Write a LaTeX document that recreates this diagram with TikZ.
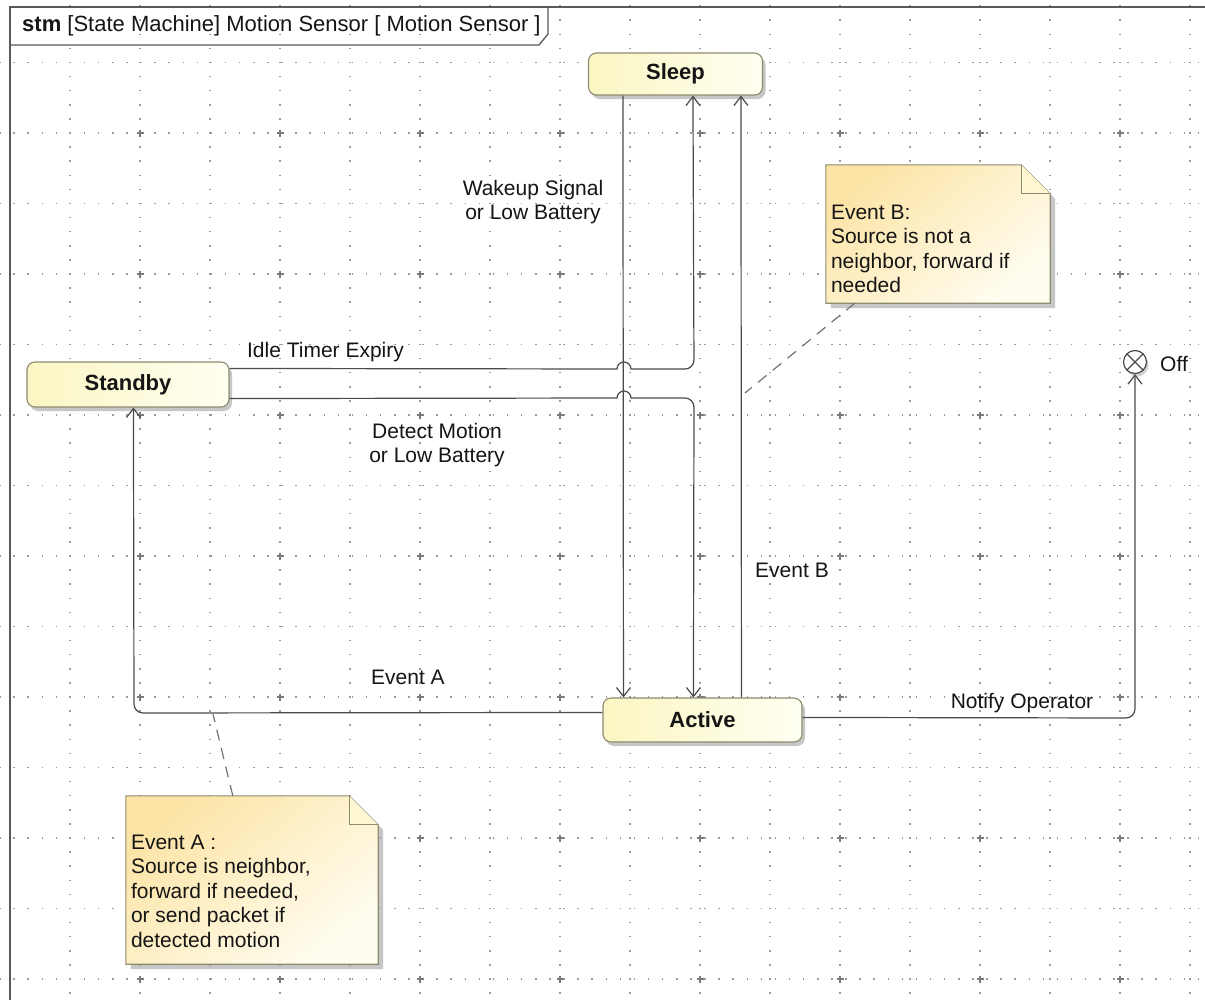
\documentclass[tikz,border=0pt]{standalone}
\usepackage{fontspec}
\setmainfont{Liberation Sans}
\usetikzlibrary{arrows.meta,calc,shadows}

\definecolor{edge}{HTML}{4A4A4A}
\definecolor{gridc}{HTML}{9A9A9A}
\definecolor{stateL}{HTML}{FBF6C2}
\definecolor{stateR}{HTML}{FFFFF2}
\definecolor{stateB}{HTML}{8C8B70}
\definecolor{noteL}{HTML}{FCE4A6}
\definecolor{noteR}{HTML}{FFFDF0}
\definecolor{foldc}{HTML}{FFF6D2}
\definecolor{noteB}{HTML}{8E8C6E}
\definecolor{txt}{HTML}{151515}

\tikzset{
  gridline/.style={draw=gridc, line width=1.4pt, dash pattern=on 1.5pt off 12.6pt, dash phase=0.75pt},
  gridcross/.style={draw=gridc!80!black, line width=1.2pt},
  frameline/.style={draw=black!65, line width=1.3pt},
  lbl/.style={text=txt, inner sep=0pt, align=center, font=\fontsize{21}{24}\selectfont},
  state/.style={draw=stateB, line width=1.1pt, rounded corners=8pt,
    left color=stateL, right color=stateR, inner sep=0pt,
    text=txt, font=\fontsize{22}{26}\selectfont\bfseries,
    drop shadow={shadow xshift=3pt, shadow yshift=-4pt, fill=black!40, opacity=0.55}},
  trans/.style={draw=edge, line width=1.2pt, -{Straight Barb[length=9pt,width=14pt]}},
  anchorline/.style={draw=black!55, line width=1.2pt, dash pattern=on 11pt off 8pt},
  notearea/.style={inner sep=0pt},
  noteline/.style={draw=noteB, line width=1.1pt},
  notetext/.style={text=txt, inner sep=0pt, align=left, font=\fontsize{21}{24.4}\selectfont},
  finalstate/.style={circle, draw=edge, line width=1.2pt, fill=white, minimum size=23pt, inner sep=0pt,
    drop shadow={shadow xshift=2pt, shadow yshift=-3pt, fill=black!35, opacity=0.5},
    path picture={\draw[edge, line width=1.2pt]
      (path picture bounding box.north west) -- (path picture bounding box.south east)
      (path picture bounding box.north east) -- (path picture bounding box.south west);}}
}

\begin{document}
\begin{tikzpicture}[x=1pt,y=-1pt]
\useasboundingbox (0,0) rectangle (1205,999);
\clip (0,0) rectangle (1205,999);
\fill[white] (0,0) rectangle (1205,999);

% dotted drawing grid
\foreach \i in {1,...,17}
  \draw[gridline] ({70*\i},-8) -- ({70*\i},1010);
\foreach \j in {0,...,13}
  \draw[gridline] (0,{62.5+70.5*\j}) -- (1215,{62.5+70.5*\j});
\foreach \i in {1,...,8}
  \foreach \j in {1,3,...,13}
    \draw[gridcross] ({140*\i-3.5},{62.5+70.5*\j}) -- ++(7,0)
                     ({140*\i},{62.5+70.5*\j-3.5}) -- ++(0,7);

% diagram frame and its heading tab
\draw[frameline] (10,1010) -- (10,7) -- (1215,7);
\draw[frameline] (10,45) -- (539,45) -- (548,34) -- (548,7);
\node[lbl, anchor=west, font=\fontsize{22}{26}\selectfont] (title) at (22,26)
  {\textbf{stm} [State Machine] Motion Sensor [ Motion Sensor ]};

% states
\node[state, minimum width=174pt, minimum height=42pt] (sleep)   at (675.5,74)  {Sleep};
\node[state, minimum width=202pt, minimum height=45pt] (standby) at (128,384.5) {Standby};
\node[state, minimum width=199pt, minimum height=44pt] (active)  at (702.5,720) {Active};
\node[finalstate] (off) at (1135,362) {};
\node[lbl, anchor=west] (offlbl) at (1160,364) {Off};

% transitions
\draw[trans] ($(sleep.south west)+(35,0)$) -- ($(active.north west)+(21,0)$);
\draw[trans] ($(standby.north east)+(0,7)$) -- (617,369)
  arc[start angle=180, end angle=0, radius=7pt]
  [rounded corners=9pt] -- (694,369) -- ($(sleep.south west)+(105,0)$);
\draw[trans] ($(standby.south east)+(0,-9)$) -- (617,398)
  arc[start angle=180, end angle=0, radius=7pt]
  [rounded corners=9pt] -- (694,398) -- ($(active.north west)+(91,0)$);
\draw[trans] ($(active.north west)+(139,0)$) -- ($(sleep.south west)+(153,0)$);
\draw[trans, rounded corners=9pt] ($(active.north west)+(0,15)$) -- (134,713)
  -- ($(standby.south west)+(107,0)$);
\draw[trans, rounded corners=9pt] ($(active.north east)+(0,20)$) -- (1135,718) -- (off.south);

% transition labels
\node[lbl] (lwake)   at (533,202) {Wakeup Signal\\or Low Battery};
\node[lbl] (lidle)   at (325.5,352) {Idle Timer Expiry};
\node[lbl] (ldetect) at (437,445) {Detect Motion\\or Low Battery};
\node[lbl] (levb)    at (792,570) {Event B};
\node[lbl] (leva)    at (408,677) {Event A};
\node[lbl] (lnotify) at (1022,703) {Notify Operator};

% comment notes
\node[notearea, minimum width=252pt, minimum height=168pt] (noteA) at (252,880) {};
\node[notearea, minimum width=224pt, minimum height=138pt] (noteB) at (938,234) {};

\foreach \n in {noteA,noteB}{
  \fill[black!40, opacity=0.55]
    ($(\n.north west)+(5,5)$) -- ($(\n.north east)+(-24,5)$) -- ($(\n.north east)+(5,34)$)
    -- ($(\n.south east)+(5,5)$) -- ($(\n.south west)+(5,5)$) -- cycle;
  \draw[noteline, top color=noteL, bottom color=noteR, shading angle=40]
    (\n.north west) -- ($(\n.north east)+(-29,0)$) -- ($(\n.north east)+(0,29)$)
    -- (\n.south east) -- (\n.south west) -- cycle;
  \draw[noteline, fill=foldc]
    ($(\n.north east)+(-29,0)$) -- ($(\n.north east)+(-29,29)$) -- ($(\n.north east)+(0,29)$);
}
\node[notetext, anchor=north west] (textA) at ($(noteA.north west)+(5,39)$)
  {Event A :\\Source is neighbor,\\forward if needed,\\or send packet if\\detected motion};
\node[notetext, anchor=north west] (textB) at ($(noteB.north west)+(5,40)$)
  {Event B:\\Source is not a\\neighbor, forward if\\needed};

% note anchors
\coordinate (onA) at (213,714);
\coordinate (onB) at (745,393);
\draw[anchorline] ($(noteA.north west)+(107,0)$) -- (onA);
\draw[anchorline] ($(noteB.south west)+(29,0)$) -- (onB);
\end{tikzpicture}
\end{document}
